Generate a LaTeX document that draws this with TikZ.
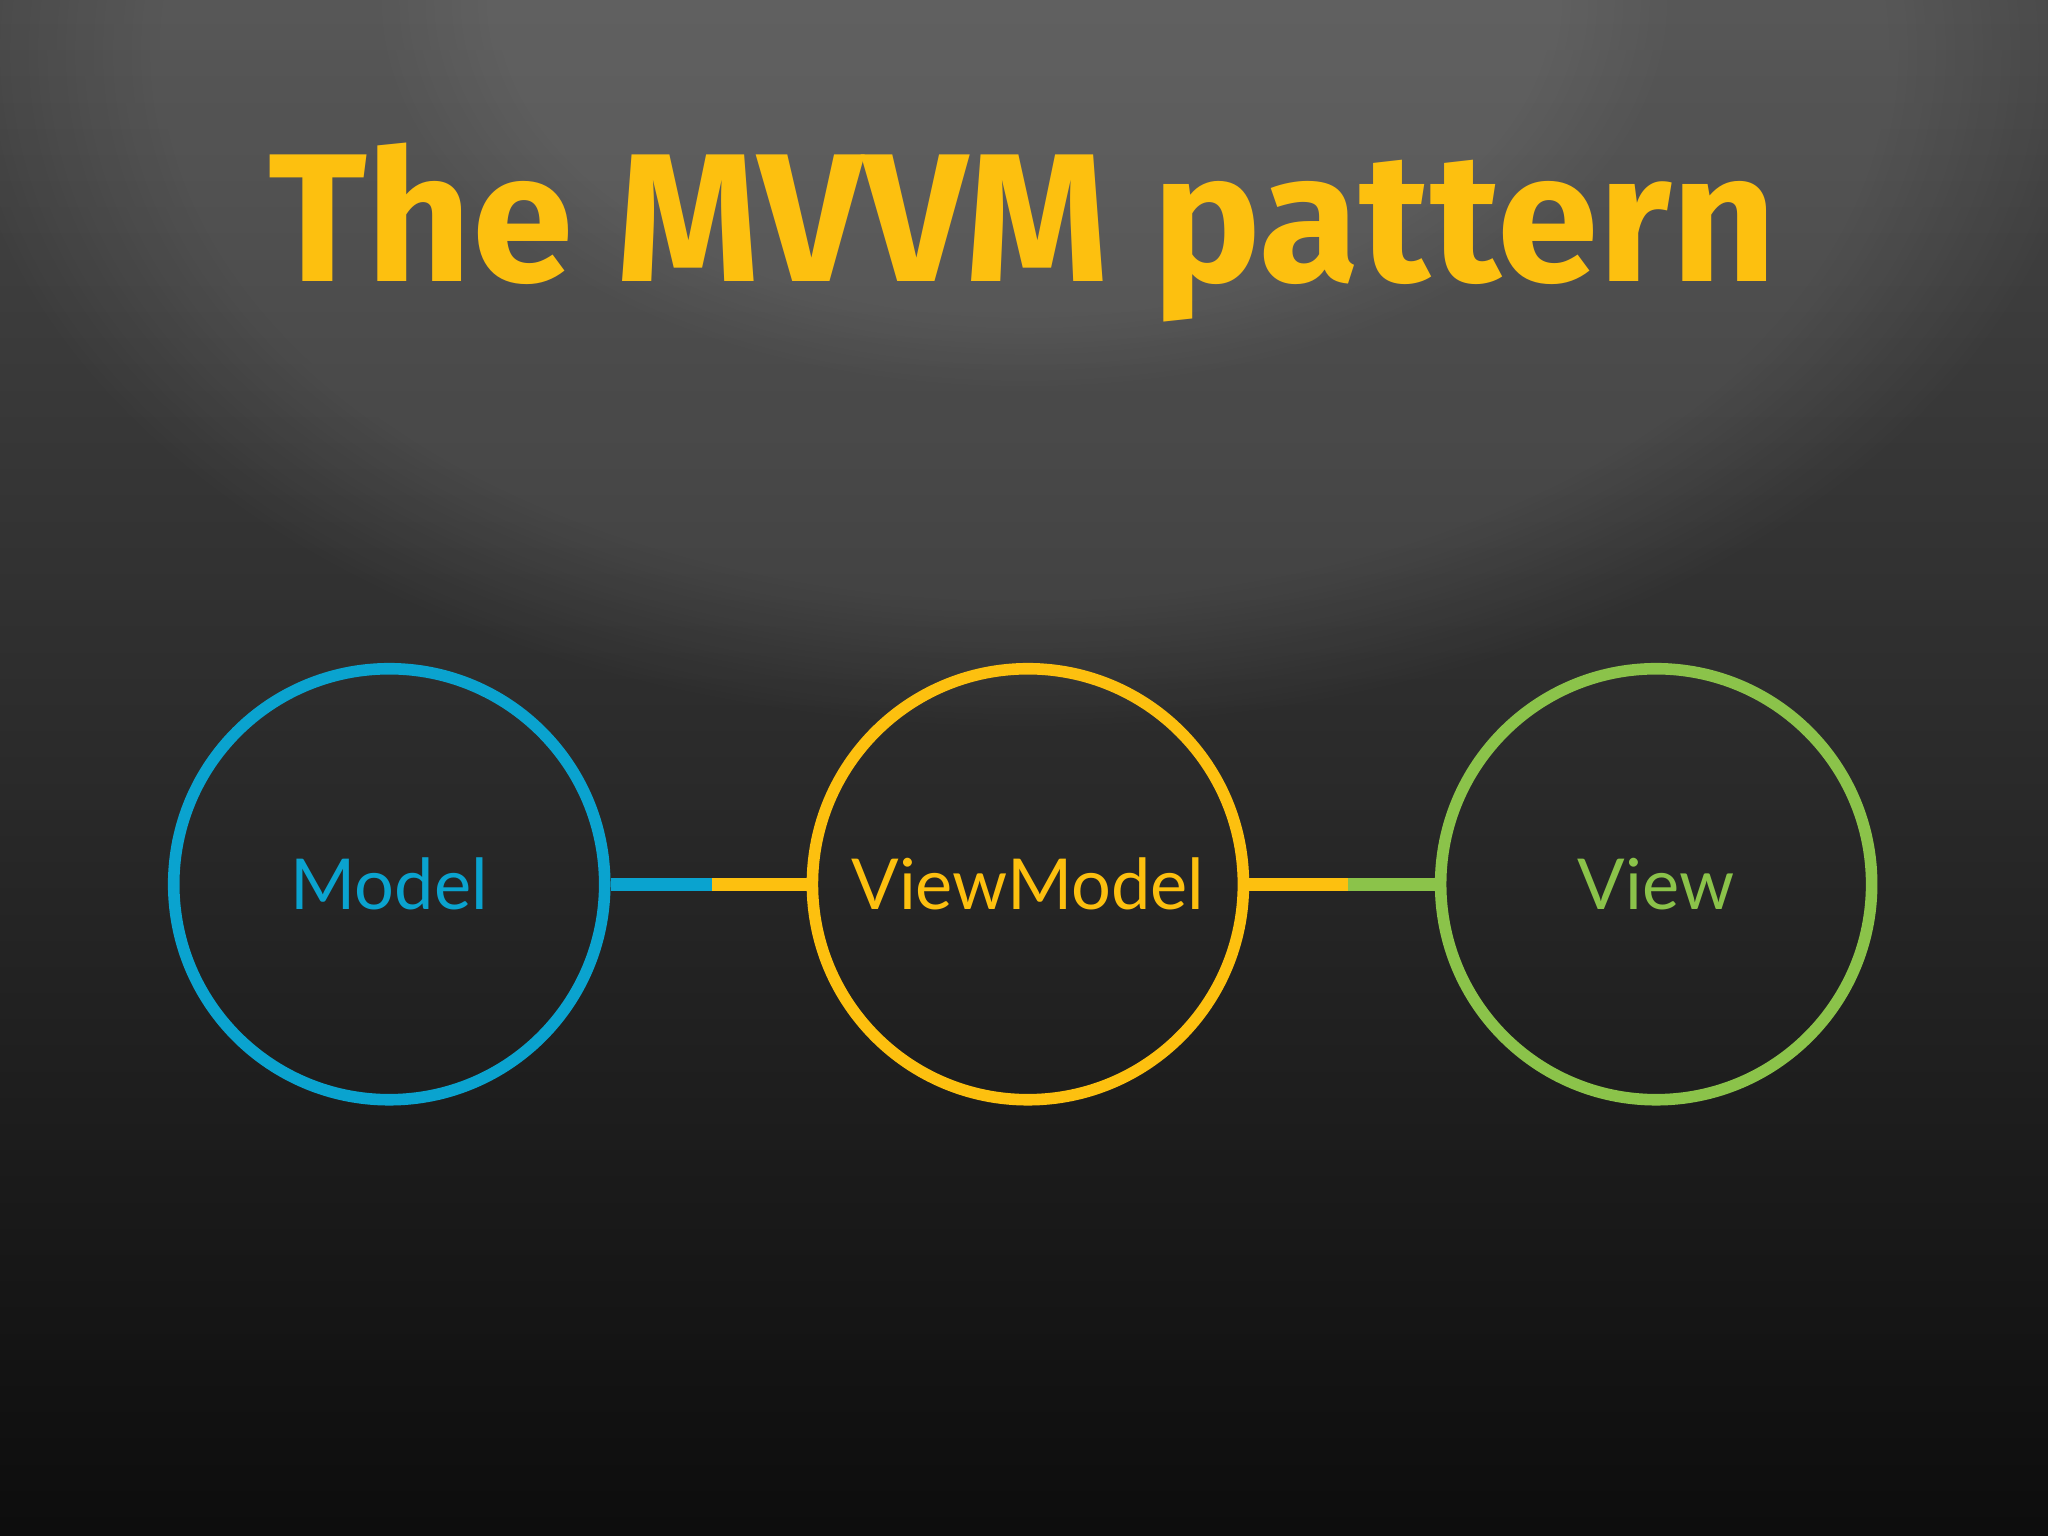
\documentclass[tikz,border=0pt]{standalone}
\usetikzlibrary{fadings}
\usepackage{fontspec}
\setmainfont{Lato}
\newfontfamily\titlefont{Fira Sans}
\definecolor{mblue}{HTML}{0AA3CF}
\definecolor{myellow}{HTML}{FDC00F}
\definecolor{mgreen}{HTML}{8BC34A}
\begin{document}
\begin{tikzpicture}[x=0.013061cm,y=-0.013061cm,
  ring/.style={circle,draw,line width=3.3pt,minimum size=330*0.013061cm,inner sep=0pt,font=\fontsize{20}{24}\selectfont},
  link/.style={line width=3.8pt}]
\useasboundingbox (0,0) rectangle (1568,1176);
\shade[top color=black!72,bottom color=black!95] (0,0) rectangle (1568,1176);
\fill[white,opacity=0.09,path fading=circle with fuzzy edge 20 percent] (784,40) ellipse (820 and 520);
\fill[white,opacity=0.06,path fading=circle with fuzzy edge 20 percent] (784,0) ellipse (500 and 300);
\node[font=\titlefont\bfseries\fontsize{52}{60}\selectfont,text=myellow] (title) at (783,178) {The MVVM pattern};
\node[ring,draw=mblue,text=mblue] (m) at (298,677) {Model};
\node[ring,draw=myellow,text=myellow] (vm) at (787,677) {ViewModel};
\node[ring,draw=mgreen,text=mgreen] (v) at (1268,677) {View};
\coordinate (c1) at (545,677);
\coordinate (c2) at (1032,677);
\draw[link,mblue] (m.east) -- (c1);
\draw[link,myellow] (c1) -- (vm.west);
\draw[link,myellow] (vm.east) -- (c2);
\draw[link,mgreen] (c2) -- (v.west);
\end{tikzpicture}
\end{document}
